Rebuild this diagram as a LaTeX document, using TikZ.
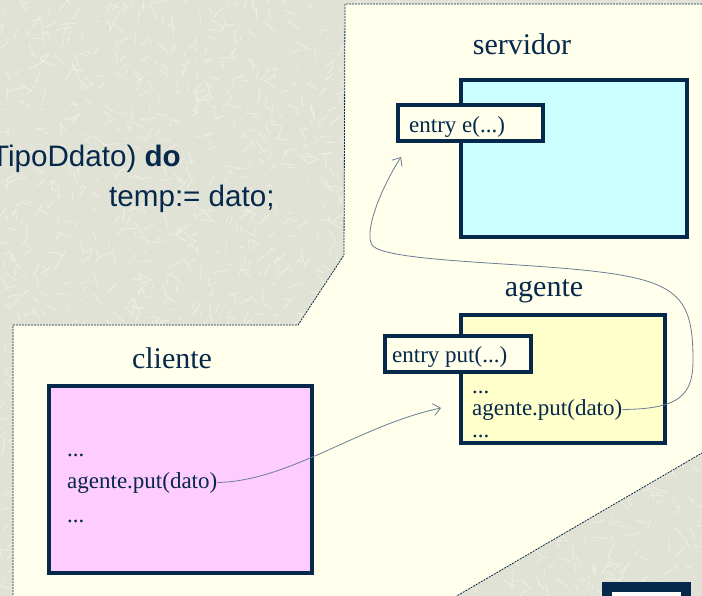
\documentclass[tikz,border=0pt]{standalone}
\usepackage{fontspec}
\setmainfont{Liberation Serif}
\newfontfamily\sansfont{Liberation Sans}
\usetikzlibrary{arrows.meta,calc}

\definecolor{navy}{RGB}{5,40,75}
\definecolor{paper}{RGB}{225,226,214}
\definecolor{fibre}{RGB}{242,242,233}
\definecolor{region}{RGB}{255,255,235}
\definecolor{srvfill}{RGB}{204,255,255}
\definecolor{agtfill}{RGB}{255,255,204}
\definecolor{clifill}{RGB}{255,204,255}
\definecolor{linkgrey}{RGB}{105,125,148}

\tikzset{
  procbox/.style={draw=navy, line width=3.5pt, inner sep=0pt, outer sep=0pt, anchor=north west},
  entrybox/.style={procbox, fill=region},
  lbl/.style={text=navy, font=\fontsize{30}{36}\selectfont, inner sep=0pt, anchor=base},
  codeline/.style={text=navy, font=\fontsize{23}{27}\selectfont, inner sep=0pt, anchor=base west},
  sanstext/.style={text=navy, font=\sansfont\fontsize{29.6}{34}\selectfont, inner sep=0pt},
  edgeline/.style={draw=navy, line width=0.8pt, dash pattern=on 2pt off 1pt},
  link/.style={draw=linkgrey, line width=0.8pt, -{Straight Barb[length=7pt,width=12pt]}},
  fibreline/.style={draw=fibre, line width=0.9pt, opacity=0.75}
}

\begin{document}
\begin{tikzpicture}[x=1pt,y=-1pt]
\useasboundingbox (0,0) rectangle (702,596);

% textured backdrop
\fill[paper] (0,0) rectangle (702,596);
\begin{scope}
  \clip (0,0) rectangle (702,596);
  \pgfmathsetseed{11}
  \foreach \i in {1,...,2600}{
    \pgfmathsetmacro\px{rnd*720-9}
    \pgfmathsetmacro\py{rnd*610-7}
    \pgfmathsetmacro\pa{rnd*360}
    \pgfmathsetmacro\pl{4+rnd*11}
    \draw[fibreline] (\px,\py) -- ++(\pa:\pl);
  }
\end{scope}

% code fragment on the backdrop
\node[sanstext, anchor=base east] (hdr) at (181,167) {TipoDdato) \textbf{do}};
\node[sanstext, anchor=base west] (asg) at (109,207) {temp:= dato;};

% light region holding the three processes
\fill[region] (345,4) -- (703,4) -- (703,453) -- (455,597) -- (13,597) -- (13,325) -- (298,325) -- (344,255) -- cycle;
\draw[edgeline] (702,4) -- (345,4) -- (344,255) -- (298,325) -- (13,325) -- (13,597);
\draw[edgeline] (455,597) -- (702,453);

% servidor
\node[lbl] (srvlbl) at (522,55) {servidor};
\node[procbox, fill=srvfill, minimum width=226, minimum height=157] (srv) at (461,80) {};
\node[entrybox, minimum width=145, minimum height=36] (entE) at (398,105) {};
\node[codeline] (entEtxt) at (409,133) {entry e(...)};

% agente
\node[lbl] (agtlbl) at (544,297) {agente};
\node[procbox, fill=agtfill, minimum width=204, minimum height=128] (agt) at (461,315) {};
\node[entrybox, minimum width=146, minimum height=36] (entP) at (385,336) {};
\node[codeline] (entPtxt) at (392,362) {entry put(...)};
\node[codeline] (adots1) at (472,393) {...};
\node[codeline] (aput) at (472,415) {agente.put(dato)};
\node[codeline] (adots2) at (472,437) {...};

% cliente
\node[lbl] (clilbl) at (172,368) {cliente};
\node[procbox, fill=clifill, minimum width=263, minimum height=187] (cli) at (49,386) {};
\node[codeline] (cdots1) at (67,456) {...};
\node[codeline] (cput) at (67,488) {agente.put(dato)};
\node[codeline] (cdots2) at (67,522) {...};

% partly visible box in the corner
\node[draw=navy, line width=10pt, fill=white, inner sep=0pt, outer sep=0pt, anchor=north west,
      minimum width=79, minimum height=60] (corner) at (607,587) {};

% calls
\coordinate (tipA) at (441,408);
\coordinate (tipE) at (401,157);
\draw[link] (cput.east) .. controls (290,481) and (360,425) .. (tipA);
\draw[link] (aput.east) .. controls (680,409) and (693,395) .. (693,360)
  .. controls (693,300) and (680,282) .. (600,272)
  .. controls (520,262) and (385,262) .. (372,245)
  .. controls (364,232) and (380,190) .. (tipE);
\end{tikzpicture}
\end{document}
